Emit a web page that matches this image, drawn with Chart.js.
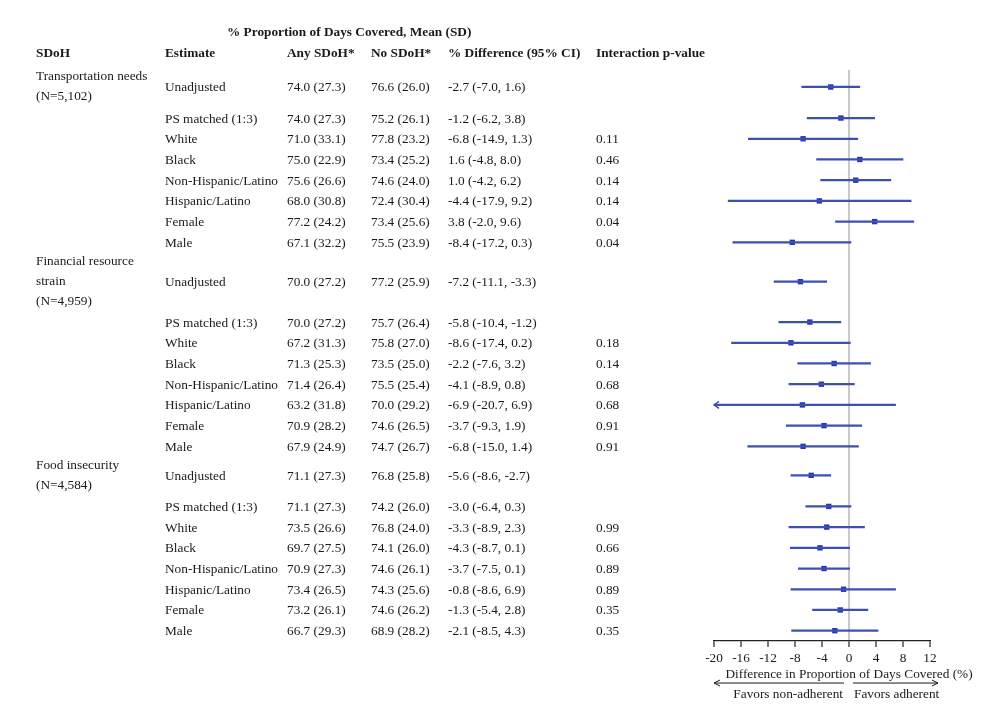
<!DOCTYPE html>
<html lang="en">
<head>
  <meta charset="UTF-8">
  <title>Proportion of Days Covered by SDoH</title>
  <script src="https://cdn.jsdelivr.net/npm/chart.js"></script>
  <style>
    body {
      margin: 0;
      background-color: #fff;
    }
    #wrap {
      width: 991px;
      height: 724px;
    }
  </style>
</head>
<body>

<div id="wrap">
  <canvas id="forestChart" width="991" height="724"></canvas>
</div>

<script>
  // groups and the label lines shown in the SDoH column
  const groupLabels = [
    ['Transportation needs', '(N=5,102)'],
    ['Financial resource', 'strain', '(N=4,959)'],
    ['Food insecurity', '(N=4,584)']
  ];
  const estimates = ['Unadjusted', 'PS matched (1:3)', 'White', 'Black',
    'Non-Hispanic/Latino', 'Hispanic/Latino', 'Female', 'Male'];

  // one value per row: 8 rows per group, groups in order
  const anyMean = [74.0, 74.0, 71.0, 75.0, 75.6, 68.0, 77.2, 67.1,
                   70.0, 70.0, 67.2, 71.3, 71.4, 63.2, 70.9, 67.9,
                   71.1, 71.1, 73.5, 69.7, 70.9, 73.4, 73.2, 66.7];
  const anySd   = [27.3, 27.3, 33.1, 22.9, 26.6, 30.8, 24.2, 32.2,
                   27.2, 27.2, 31.3, 25.3, 26.4, 31.8, 28.2, 24.9,
                   27.3, 27.3, 26.6, 27.5, 27.3, 26.5, 26.1, 29.3];
  const noMean  = [76.6, 75.2, 77.8, 73.4, 74.6, 72.4, 73.4, 75.5,
                   77.2, 75.7, 75.8, 73.5, 75.5, 70.0, 74.6, 74.7,
                   76.8, 74.2, 76.8, 74.1, 74.6, 74.3, 74.6, 68.9];
  const noSd    = [26.0, 26.1, 23.2, 25.2, 24.0, 30.4, 25.6, 23.9,
                   25.9, 26.4, 27.0, 25.0, 25.4, 29.2, 26.5, 26.7,
                   25.8, 26.0, 24.0, 26.0, 26.1, 25.6, 26.2, 28.2];
  const diffEst = [-2.7, -1.2, -6.8, 1.6, 1.0, -4.4, 3.8, -8.4,
                   -7.2, -5.8, -8.6, -2.2, -4.1, -6.9, -3.7, -6.8,
                   -5.6, -3.0, -3.3, -4.3, -3.7, -0.8, -1.3, -2.1];
  const diffLo  = [-7.0, -6.2, -14.9, -4.8, -4.2, -17.9, -2.0, -17.2,
                   -11.1, -10.4, -17.4, -7.6, -8.9, -20.7, -9.3, -15.0,
                   -8.6, -6.4, -8.9, -8.7, -7.5, -8.6, -5.4, -8.5];
  const diffHi  = [1.6, 3.8, 1.3, 8.0, 6.2, 9.2, 9.6, 0.3,
                   -3.3, -1.2, 0.2, 3.2, 0.8, 6.9, 1.9, 1.4,
                   -2.7, 0.3, 2.3, 0.1, 0.1, 6.9, 2.8, 4.3];
  const pValue  = [null, null, 0.11, 0.46, 0.14, 0.14, 0.04, 0.04,
                   null, null, 0.18, 0.14, 0.68, 0.68, 0.91, 0.91,
                   null, null, 0.99, 0.66, 0.89, 0.89, 0.35, 0.35];

  const xTicks = [-20, -16, -12, -8, -4, 0, 4, 8, 12];

  // vertical row positions (in row units), with the wider gaps of the original
  const groupGap = [0, 1.9, 1.4];
  const psGap = [1.5, 1.95, 1.5];
  const rowPos = [];
  let pos = 0;
  for (let g = 0; g < groupLabels.length; g++) {
    if (g > 0) pos += groupGap[g];
    for (let k = 0; k < estimates.length; k++) {
      if (k === 1) pos += psGap[g];
      else if (k > 1) pos += 1;
      rowPos.push(pos);
    }
  }

  const FONT = '"Liberation Serif", "Times New Roman", serif';
  const TEXT = '#1a1a1a';
  const colX = { sdoh: 36, est: 165, any: 287, no: 371, diff: 448, p: 596 };

  const tablePlugin = {
    id: 'tableText',
    afterDraw(chart) {
      const ctx = chart.ctx;
      const xs = chart.scales.x;
      const ys = chart.scales.y;
      ctx.save();
      ctx.fillStyle = TEXT;
      ctx.textBaseline = 'middle';
      ctx.textAlign = 'left';

      // headers
      ctx.font = 'bold 13.3px ' + FONT;
      ctx.fillText('% Proportion of Days Covered, Mean (SD)', 227, 33);
      const hy = 54;
      ctx.fillText('SDoH', colX.sdoh, hy);
      ctx.fillText('Estimate', colX.est, hy);
      ctx.fillText('Any SDoH*', colX.any, hy);
      ctx.fillText('No SDoH*', colX.no, hy);
      ctx.fillText('% Difference (95% CI)', colX.diff, hy);
      ctx.fillText('Interaction p-value', colX.p, hy);

      ctx.font = '13.3px ' + FONT;
      // group labels, centred on the Unadjusted row
      groupLabels.forEach((lines, g) => {
        const cy = ys.getPixelForValue(rowPos[g * estimates.length]);
        const lh = 20;
        const top = cy - (lines.length - 1) * lh / 2;
        lines.forEach((t, j) => ctx.fillText(t, colX.sdoh, top + j * lh));
      });

      rowPos.forEach((p, i) => {
        const y = ys.getPixelForValue(p) + 1;
        ctx.fillText(estimates[i % estimates.length], colX.est, y);
        ctx.fillText(anyMean[i].toFixed(1) + ' (' + anySd[i].toFixed(1) + ')', colX.any, y);
        ctx.fillText(noMean[i].toFixed(1) + ' (' + noSd[i].toFixed(1) + ')', colX.no, y);
        ctx.fillText(diffEst[i].toFixed(1) + ' (' + diffLo[i].toFixed(1) + ', ' + diffHi[i].toFixed(1) + ')', colX.diff, y);
        if (pValue[i] !== null) ctx.fillText(pValue[i].toFixed(2), colX.p, y);
      });

      // arrow heads for intervals running past the axis
      ctx.strokeStyle = '#3d50b0';
      ctx.lineWidth = 1.4;
      rowPos.forEach((p, i) => {
        if (diffLo[i] < xs.min) {
          const y = ys.getPixelForValue(p);
          const L = xs.left;
          ctx.beginPath();
          ctx.moveTo(L + 5, y - 3.5);
          ctx.lineTo(L, y);
          ctx.lineTo(L + 5, y + 3.5);
          ctx.stroke();
        }
      });

      // axis caption and direction arrows
      const zx = xs.getPixelForValue(0);
      const by = chart.chartArea.bottom;
      ctx.textAlign = 'center';
      ctx.fillText('Difference in Proportion of Days Covered (%)', zx, by + 33);
      ctx.strokeStyle = TEXT;
      ctx.lineWidth = 1;
      const ay = by + 42;
      ctx.beginPath();
      ctx.moveTo(zx - 5, ay); ctx.lineTo(xs.left, ay);
      ctx.moveTo(xs.left + 6, ay - 3); ctx.lineTo(xs.left, ay); ctx.lineTo(xs.left + 6, ay + 3);
      ctx.moveTo(zx + 4, ay); ctx.lineTo(zx + 89, ay);
      ctx.moveTo(zx + 83, ay - 3); ctx.lineTo(zx + 89, ay); ctx.lineTo(zx + 83, ay + 3);
      ctx.stroke();
      ctx.textAlign = 'right';
      ctx.fillText('Favors non-adherent', zx - 6, by + 53);
      ctx.textAlign = 'left';
      ctx.fillText('Favors adherent', zx + 5, by + 53);
      ctx.restore();
    }
  };

  const ctx = document.getElementById('forestChart').getContext('2d');
  const forestChart = new Chart(ctx, {
    data: {
      datasets: [
        {
          type: 'bar',
          data: rowPos.map((p, i) => ({ x: [diffLo[i], diffHi[i]], y: p })),
          backgroundColor: '#3d50b0',
          borderWidth: 0,
          barThickness: 1.6,
          indexAxis: 'y'
        },
        {
          type: 'scatter',
          data: rowPos.map((p, i) => ({ x: diffEst[i], y: p })),
          pointStyle: 'rect',
          pointRadius: 3.8,
          pointHoverRadius: 3.8,
          backgroundColor: '#2535b8',
          borderWidth: 0
        }
      ]
    },
    options: {
      responsive: false,
      animation: false,
      events: [],
      layout: {
        padding: { left: 714, right: 61, top: 70, bottom: 55 }
      },
      plugins: {
        legend: { display: false },
        tooltip: { enabled: false }
      },
      scales: {
        x: {
          type: 'linear',
          min: -20,
          max: 12,
          afterBuildTicks: axis => { axis.ticks = xTicks.map(v => ({ value: v })); },
          ticks: {
            color: TEXT,
            padding: 3,
            font: { family: FONT, size: 13.3 }
          },
          grid: {
            color: c => (c.tick && c.tick.value === 0) ? '#c9c9c9' : 'rgba(0,0,0,0)',
            lineWidth: 2,
            tickColor: '#222',
            tickLength: 6,
            tickWidth: 1.2
          },
          border: { display: true, color: '#222', width: 1.2 }
        },
        y: {
          type: 'linear',
          min: -0.82,
          max: 26.75,
          offset: false,
          reverse: true,
          display: false
        }
      }
    },
    plugins: [tablePlugin]
  });
</script>
</body>
</html>
